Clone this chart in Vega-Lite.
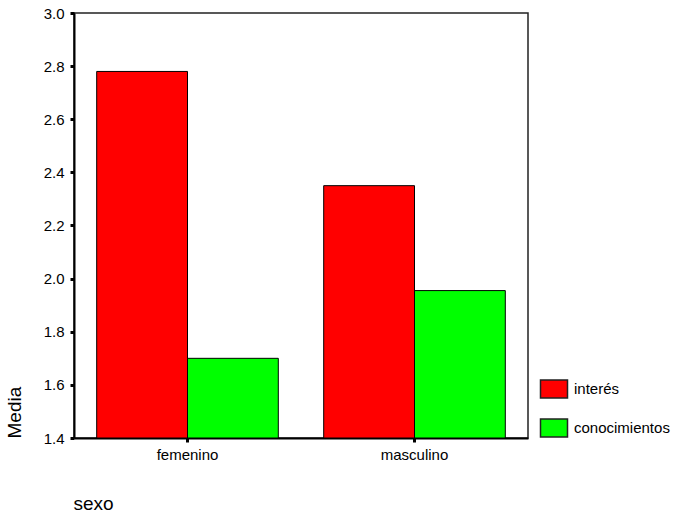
{
  "$schema": "https://vega.github.io/schema/vega-lite/v6.json",
  "autosize": "none",
  "width": 454,
  "height": 425,
  "padding": {"left": 74, "top": 13, "right": 148, "bottom": 76},
  "background": "white",
  "config": {
    "font": "Liberation Sans",
    "view": {"stroke": "#222222", "strokeWidth": 1.5},
    "axis": {"grid": false, "domainColor": "black", "domainWidth": 2, "tickColor": "black", "labelColor": "black", "titleColor": "black", "labelFont": "Liberation Sans", "titleFont": "Liberation Sans", "titleFontWeight": "normal"}
  },
  "data": {
    "values": [
      {"sexo": "femenino", "serie": "interés", "media": 2.78},
      {"sexo": "femenino", "serie": "conocimientos", "media": 1.70},
      {"sexo": "masculino", "serie": "interés", "media": 2.35},
      {"sexo": "masculino", "serie": "conocimientos", "media": 1.955}
    ]
  },
  "mark": {"type": "bar", "stroke": "black", "strokeWidth": 1, "clip": true},
  "encoding": {
    "x": {
      "field": "sexo", "type": "nominal", "sort": ["femenino", "masculino"],
      "scale": {"paddingInner": 0.2, "paddingOuter": 0.1},
      "axis": {"title": "sexo", "labelAngle": 0, "labelFontSize": 15, "tickSize": 4, "tickWidth": 3, "labelPadding": 5,
               "titleFontSize": 19, "titleAnchor": "start", "titleAlign": "left", "titleX": -1, "titleY": 71, "titleBaseline": "alphabetic"}
    },
    "xOffset": {"field": "serie", "type": "nominal", "sort": ["interés", "conocimientos"], "scale": {"paddingInner": 0, "paddingOuter": 0}},
    "y": {
      "field": "media", "type": "quantitative",
      "scale": {"domain": [1.4, 3.0], "zero": false, "nice": false},
      "axis": {"title": "Media", "values": [1.4, 1.6, 1.8, 2.0, 2.2, 2.4, 2.6, 2.8, 3.0], "format": ".1f", "labelFontSize": 15, "tickSize": 4, "tickWidth": 3, "labelPadding": 6,
               "titleFontSize": 19, "titleAngle": -90, "titleAlign": "left", "titleBaseline": "middle", "titleX": -60, "titleY": 425}
    },
    "y2": {"datum": 1.4},
    "color": {
      "field": "serie", "type": "nominal", "sort": ["interés", "conocimientos"],
      "scale": {"domain": ["interés", "conocimientos"], "range": ["#FF0000", "#00FF00"]},
      "legend": {"title": null, "orient": "none", "legendX": 470, "legendY": 366, "padding": 0,
                 "symbolType": "M-1.5,-1H1.5V1H-1.5Z", "symbolSize": 324, "symbolStrokeColor": "#222222", "symbolStrokeWidth": 1.5, "symbolOpacity": 1,
                 "labelFontSize": 15, "labelColor": "black", "labelOffset": 10, "rowPadding": 15}
    }
  }
}
